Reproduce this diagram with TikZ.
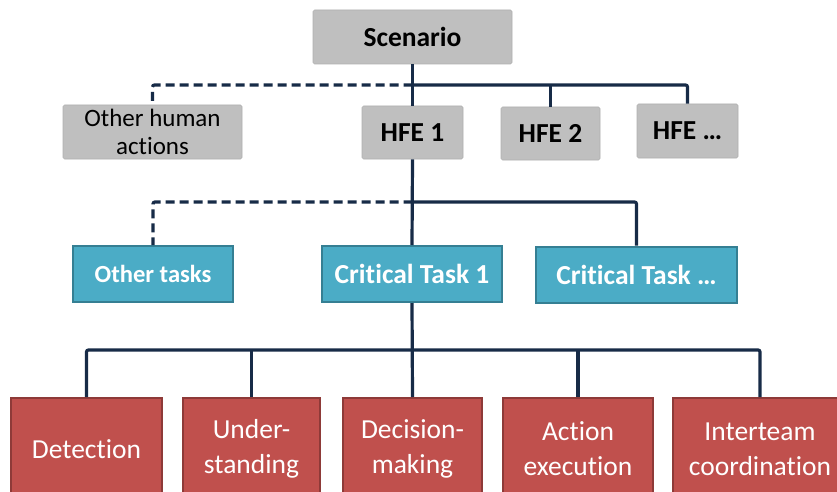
\documentclass[tikz,border=0pt]{standalone}
\usepackage{fontspec}
\setmainfont{Carlito}[Ligatures=NoCommon]
\definecolor{lineC}{HTML}{172B47}
\definecolor{grayF}{HTML}{BFBFBF}
\definecolor{tealF}{HTML}{4BACC6}
\definecolor{tealD}{HTML}{357F93}
\definecolor{redF}{HTML}{C0504D}
\definecolor{redD}{HTML}{8E3A38}
\begin{document}
\begin{tikzpicture}[x=1pt,y=-1pt,
  graybox/.style={fill=grayF, draw=grayF!92!black, line width=0.6pt, rounded corners=1.5pt, inner sep=0pt, text=black, align=center},
  tealbox/.style={fill=tealF, draw=tealD, line width=2pt, inner sep=0pt, text=white, minimum height=56pt, font=\fontsize{27.5}{30}\selectfont\bfseries},
  redbox/.style={fill=redF, draw=redD, line width=2pt, inner sep=0pt, text=white, minimum height=102pt, align=center, font=\fontsize{27.5}{35}\selectfont},
  link/.style={draw=lineC, line width=3.2pt, rounded corners=2pt},
  dlink/.style={link, dash pattern=on 9pt off 5pt}]
\useasboundingbox (0,0) rectangle (837,492);
\clip (0,0) rectangle (837,492);
% level 0/1
\node[graybox, minimum width=199pt, minimum height=54pt, font=\bfseries\fontsize{27.5}{30}\selectfont] (scen) at (412.5,37) {Scenario};
\node[graybox, minimum width=179pt, minimum height=54pt, font=\fontsize{25}{28}\selectfont] (oha) at (152.5,132) {Other human\\actions};
\node[graybox, minimum width=101pt, minimum height=53pt, font=\bfseries\fontsize{27.5}{30}\selectfont] (hfe1) at (412.5,132.5) {HFE 1};
\node[graybox, minimum width=99pt, minimum height=53pt, font=\bfseries\fontsize{27.5}{30}\selectfont] (hfe2) at (550.5,133.5) {HFE 2};
\node[graybox, minimum width=101pt, minimum height=54pt, font=\bfseries\fontsize{27.5}{30}\selectfont] (hfeN) at (687.5,131) {HFE …};
% level 2
\node[tealbox, minimum width=160pt, font=\fontsize{24.6}{28}\selectfont\bfseries] (ot) at (153,274) {Other tasks};
\node[tealbox, minimum width=180pt] (ct1) at (412,274) {Critical Task 1};
\node[tealbox, minimum width=201pt] (ctN) at (636.5,274.5) {Critical Task …};
% level 3
\node[redbox, minimum width=151pt] (det) at (86.5,449) {Detection};
\node[redbox, minimum width=137pt] (und) at (251.5,449) {Under-\\standing};
\node[redbox, minimum width=139pt] (dec) at (412.5,449) {Decision-\\making};
\node[redbox, minimum width=150pt] (act) at (578,449) {Action\\execution};
\node[redbox, minimum width=174pt] (inter) at (760,449) {Interteam\\coordination};
% connectors
\coordinate (j0) at (412.5,85);
\coordinate (j1) at (412.5,202);
\coordinate (j2) at (412.5,350);
\draw[link] (scen.south) -- (hfe1.north);
\draw[link] (j0) -| (hfeN.north);
\draw[link] (hfe2.north) -- (hfe2.north |- j0);
\draw[dlink] (j0) -| (oha.north);
\draw[link] (hfe1.south) -- (ct1.north);
\draw[link] (j1) -| (ctN.north);
\draw[dlink] (j1) -| (ot.north);
\draw[link] (ct1.south) -- (dec.north);
\draw[link] (det.north) |- (inter.north |- j2) -- (inter.north);
\draw[link] (und.north) -- (und.north |- j2);
\draw[link] (act.north) -- (act.north |- j2);
\end{tikzpicture}
\end{document}
